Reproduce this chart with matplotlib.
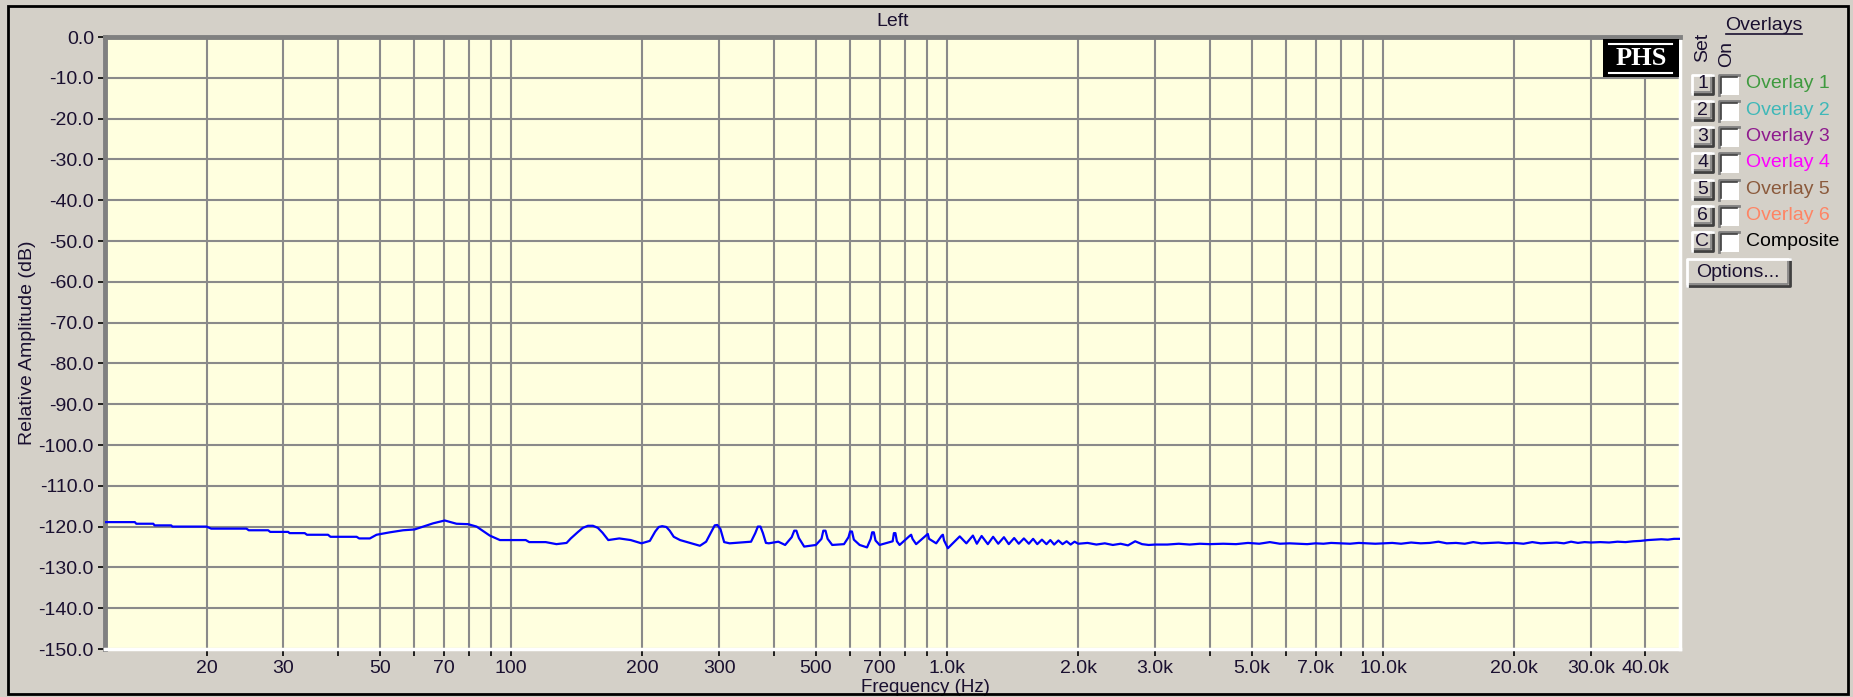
import matplotlib
matplotlib.use("Agg")
import matplotlib.pyplot as plt
from matplotlib.patches import Rectangle

# Trazo (Hz, dB)
freq_hz = [11.7, 13.7, 13.8, 15.1, 15.2, 16.6, 16.7, 20.0, 20.5, 24.7, 25.0, 27.7,
           28.0, 30.8, 31.0, 33.6, 34.0, 38.0, 38.5, 44.2, 44.8, 47.4, 49.1, 52.7,
           56.5, 60.0, 62.8, 66.2, 70.4, 74.9, 79.6, 83.3, 89.3, 94.2, 108, 110,
           120, 127, 134, 137, 142, 146, 150, 154, 158, 162, 167, 177, 188, 199,
           208, 214, 218, 222, 227, 231, 236, 244, 271, 280, 288, 293, 297, 302, 308, 317,
           355, 363, 368, 373, 378, 384, 390, 410, 425, 440, 446, 451, 457, 470, 500, 515,
           520, 526, 532, 545, 580, 594, 599, 605, 611, 630, 655, 668, 673, 679, 685, 700,
           750, 755, 761, 767, 778, 822, 827, 833, 849, 898, 903, 909, 944, 972, 978, 984,
           1004, 1069, 1107, 1146, 1170, 1200, 1240, 1275, 1310, 1350, 1385, 1425, 1460, 1500,
           1540, 1575, 1610, 1650, 1690, 1725, 1760, 1800, 1840, 1880, 1920, 1960,
           2000, 2100, 2200, 2300, 2400, 2500, 2600, 2700, 2800, 2900, 3000, 3200,
           3400, 3600, 3800, 4000, 4300, 4600, 4900, 5200, 5500, 5800, 6100, 6400,
           6700, 7000, 7300, 7600, 8000, 8400, 8800, 9200, 9600, 10000, 10500, 11000,
           11600, 12200, 12800, 13400, 14000, 14700, 15400, 16100, 16800, 17600, 18400, 19200,
           20000, 21000, 22000, 23000, 24000, 25000, 26000, 27000, 28000, 29000, 30000, 31500,
           33000, 34500, 36000, 37500, 39000, 40500, 42000, 43500, 45000, 46500, 48000]
level_db = [-118.9, -118.9, -119.3, -119.3, -119.7, -119.7, -120.0, -120.0, -120.5, -120.5, -120.9, -120.9,
            -121.3, -121.3, -121.6, -121.6, -122.0, -122.0, -122.5, -122.5, -122.9, -122.9, -122.0, -121.4,
            -120.9, -120.7, -120.0, -119.2, -118.5, -119.3, -119.4, -120.0, -122.2, -123.3, -123.3, -123.8,
            -123.8, -124.3, -124.0, -122.9, -121.4, -120.3, -119.8, -119.8, -120.3, -121.5, -123.3, -122.9, -123.3, -124.1,
            -123.5, -121.2, -120.1, -119.9, -120.1, -121.0, -122.5, -123.3, -124.7, -123.7, -121.2, -119.7, -119.6, -120.6, -123.8, -124.1,
            -123.7, -121.6, -120.0, -120.0, -121.6, -124.0, -124.1, -123.7, -124.5, -122.6, -121.0, -121.0, -122.8, -124.9, -124.5, -123.0,
            -121.0, -121.0, -123.0, -124.5, -124.3, -122.6, -121.2, -121.2, -123.2, -124.5, -125.1, -123.0, -121.4, -121.4, -123.4, -124.5,
            -123.6, -121.6, -121.6, -123.6, -124.5, -122.2, -122.0, -123.0, -124.3, -122.0, -121.8, -123.0, -124.1, -122.2, -122.0, -123.4,
            -125.3, -122.4, -124.1, -122.2, -124.2, -122.3, -124.3, -122.5, -124.2, -122.6, -124.3, -122.8, -124.2, -122.9,
            -124.2, -123.0, -124.3, -123.2, -124.3, -123.3, -124.4, -123.4, -124.3, -123.6, -124.4, -123.7,
            -124.2, -124.0, -124.4, -124.1, -124.5, -124.2, -124.6, -123.6, -124.3, -124.5, -124.4, -124.4,
            -124.2, -124.4, -124.2, -124.3, -124.2, -124.3, -124.0, -124.2, -123.8, -124.2, -124.1, -124.2,
            -124.3, -124.1, -124.2, -124.0, -124.1, -124.2, -124.0, -124.1, -124.2, -124.1, -124.0, -124.2,
            -123.9, -124.1, -124.0, -123.7, -124.1, -124.0, -124.2, -123.8, -124.1, -124.0, -123.9, -124.1,
            -124.0, -124.2, -123.8, -124.1, -124.0, -123.9, -124.1, -123.7, -124.0, -123.8, -123.9, -123.8,
            -123.9, -123.7, -123.8, -123.6, -123.5, -123.3, -123.2, -123.1, -123.2, -123.0, -123.0]

x_grid = [20, 30, 40, 50, 60, 70, 80, 90, 100, 200, 300, 400, 500, 600, 700, 800, 900,
          1000, 2000, 3000, 4000, 5000, 6000, 7000, 8000, 9000, 10000, 20000, 30000, 40000]
x_labels = {20: "20", 30: "30", 50: "50", 70: "70", 100: "100", 200: "200", 300: "300",
            500: "500", 700: "700", 1000: "1.0k", 2000: "2.0k", 3000: "3.0k", 5000: "5.0k",
            7000: "7.0k", 10000: "10.0k", 20000: "20.0k", 30000: "30.0k", 40000: "40.0k"}
y_ticks = list(range(0, -151, -10))

overlay_names = ["Overlay 1", "Overlay 2", "Overlay 3", "Overlay 4", "Overlay 5", "Overlay 6", "Composite"]
overlay_keys = ["1", "2", "3", "4", "5", "6", "C"]
overlay_colors = ["#3f9a3f", "#3fb8b8", "#8e1a8e", "#ff00ff", "#8b5a3c", "#ff8464", "#000000"]

W, H = 1853, 697
BG = "#d4d0c8"
TXT = "#1a1030"
plt.rcParams["font.family"] = ["Liberation Sans", "DejaVu Sans"]

fig = plt.figure(figsize=(W / 100, H / 100), dpi=100, facecolor=BG)

def px(x0, y0, x1, y1):
    return [x0 / W, 1 - y1 / H, (x1 - x0) / W, (y1 - y0) / H]

ax = fig.add_axes(px(105, 37, 1680, 649))
ax.set_facecolor("#ffffdf")
ax.plot(freq_hz, level_db, color="#0000ff", lw=1.6, zorder=3)
ax.set_xscale("log")
ax.set_xlim(11.7, 48000)
ax.set_ylim(-150, 0)
ax.set_xticks(x_grid)
ax.set_xticklabels([x_labels.get(f, "") for f in x_grid])
ax.xaxis.set_minor_locator(matplotlib.ticker.NullLocator())
ax.set_yticks(y_ticks)
ax.set_yticklabels([f"{v:.1f}" for v in y_ticks])
ax.grid(True, color="#8a8a8a", lw=1.5, zorder=1)
ax.tick_params(axis="both", colors="#000000", labelcolor=TXT, labelsize=14, length=5, width=1.2)
ax.tick_params(axis="x", pad=3)
ax.tick_params(axis="y", pad=3)
for s in ("left", "top"):
    ax.spines[s].set_color("#808080")
    ax.spines[s].set_linewidth(3.5)
for s in ("right", "bottom"):
    ax.spines[s].set_color("#ffffff")
    ax.spines[s].set_linewidth(2.5)

fig.text(893 / W, 1 - 21 / H, "Left", ha="center", va="center", fontsize=14, color=TXT)
fig.text(925 / W, 1 - 687 / H, "Frequency (Hz)", ha="center", va="center", fontsize=13.5, color=TXT)
fig.text(28 / W, 1 - 343 / H, "Relative Amplitude (dB)", ha="center", va="center",
         rotation=90, fontsize=14, color=TXT)

# Capa en pixeles para el panel de la derecha y los adornos
ov = fig.add_axes([0, 0, 1, 1], zorder=5)
ov.set_xlim(0, W)
ov.set_ylim(H, 0)
ov.axis("off")
ov.patch.set_alpha(0)

ov.add_patch(Rectangle((8, 6), 1840, 688, fill=False, edgecolor="#000000", lw=2))

# Logo PHS
ov.add_patch(Rectangle((1603, 39), 76, 38, facecolor="#000000", edgecolor="none"))
ov.plot([1609, 1672], [44, 44], color="white", lw=1.5)
ov.plot([1609, 1672], [72.5, 72.5], color="white", lw=1.5)
ov.text(1641, 58.5, "PHS", color="white", ha="center", va="center", fontsize=19,
        fontweight="bold", family="Liberation Serif")

def boton(x0, y0, w, h):
    ov.add_patch(Rectangle((x0, y0), w, h, facecolor=BG, edgecolor="none"))
    ov.plot([x0, x0 + w, x0 + w], [y0 + h, y0 + h, y0], color="#404040", lw=2)
    ov.plot([x0 + 1.5, x0 + w - 2, x0 + w - 2], [y0 + h - 2, y0 + h - 2, y0 + 1.5], color="#808080", lw=1.2)
    ov.plot([x0, x0, x0 + w], [y0 + h, y0, y0], color="#ffffff", lw=2)

def casilla(x0, y0, s):
    ov.add_patch(Rectangle((x0, y0), s, s, facecolor="#ffffff", edgecolor="none"))
    ov.plot([x0, x0, x0 + s], [y0 + s, y0, y0], color="#808080", lw=2)
    ov.plot([x0 + 2, x0 + 2, x0 + s - 2], [y0 + s - 2, y0 + 2, y0 + 2], color="#404040", lw=1.2)

ov.text(1764, 25, "Overlays", ha="center", va="center", fontsize=14, color=TXT)
ov.plot([1726, 1802], [34, 34], color=TXT, lw=1.2)
ov.text(1703, 47, "Set", ha="center", va="center", rotation=90, fontsize=14, color=TXT)
ov.text(1727, 54, "On", ha="center", va="center", rotation=90, fontsize=14, color=TXT)

filas = [84, 110.3, 136.6, 162.9, 189.2, 215.5, 241.8]
for yc, k, nombre, col in zip(filas, overlay_keys, overlay_names, overlay_colors):
    boton(1692, yc - 9.5, 21, 19)
    ov.text(1702.5, yc, k, ha="center", va="center", fontsize=14, color=TXT)
    casilla(1719, yc - 9.5, 20)
    ov.text(1746, yc, nombre, ha="left", va="center", fontsize=14, color=col)

boton(1687, 259, 103, 27)
ov.text(1738, 272.5, "Options...", ha="center", va="center", fontsize=14, color=TXT)

plt.savefig("out.png", dpi=100, facecolor=BG)
